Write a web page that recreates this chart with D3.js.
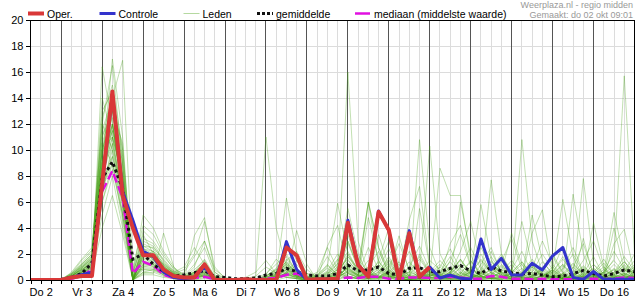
<!DOCTYPE html>
<html>
<head>
<meta charset="utf-8">
<script src="https://cdn.jsdelivr.net/npm/d3@7"></script>
<style>
  body { margin: 0; background: #fff; }
  svg { display: block; font-family: "Liberation Sans", Arial, sans-serif; }
</style>
</head>
<body>
<svg id="chart" width="635" height="300"></svg>
<script>
// tijdstappen: elke 6 uur vanaf do 2 06:00 (uren sinds do 2 00:00)
const startHour = 6, stepHours = 6, endHour = 360;
const dayLabels = ["Do 2", "Vr 3", "Za 4", "Zo 5", "Ma 6", "Di 7", "Wo 8", "Do 9", "Vr 10", "Za 11", "Zo 12", "Ma 13", "Di 14", "Wo 15", "Do 16"];
const yTicks = [0, 2, 4, 6, 8, 10, 12, 14, 16, 18, 20];

const oper = [0, 0, 0, 0, 0.2, 0.3, 0.3, 7.4, 14.5, 6.5, 4.0, 1.9, 1.9, 0.8, 0.3, 0.2, 0.2, 1.2, 0, 0,
  0, 0.05, 0, 0, 0, 2.5, 1.9, 0, 0.05, 0.05, 0.1, 4.4, 1.15, 0.25, 5.25, 3.85, 0, 3.6, 0.25, 1.0];

const controle = [0, 0, 0, 0, 0.2, 0.4, 0.6, 7.2, 14.3, 6.8, 4.6, 2.2, 1.8, 0.6, 0.2, 0.1, 0.2, 1.0, 0, 0,
  0, 0.05, 0, 0, 0, 2.95, 0.8, 0, 0.05, 0.05, 0.1, 4.6, 1.2, 0.25, 5.3, 3.8, 0, 3.8, 0.2, 1.0,
  0.15, 0.38, 0.13, 0.05, 3.15, 0.8, 1.67, 0.38, 0.38, 1.28, 0.77, 1.85, 2.5, 0.2, 0.05, 0.65, 0.05, 0.05, 0.05, 0.05];

const gemiddelde = [0, 0, 0.02, 0.05, 0.2, 0.5, 1.3, 7.8, 9.1, 7.0, 1.6, 2.0, 1.2, 0.65, 0.3, 0.4, 0.56, 0.72, 0.25, 0.2,
  0.1, 0.1, 0.15, 0.38, 0.5, 0.9, 0.64, 0.4, 0.3, 0.3, 0.5, 1.15, 0.7, 0.77, 1.0, 0.5, 0.4, 0.9, 0.95, 0.64,
  0.64, 0.9, 1.1, 0.72, 0.5, 1.0, 0.7, 0.56, 0.46, 0.5, 0.38, 0.25, 0.3, 0.5, 0.72, 0.5, 0.3, 0.5, 0.77, 0.64];

const mediaan = [0, 0, 0, 0, 0.1, 0.3, 0.8, 6.8, 8.4, 6.3, 0.5, 1.4, 1.1, 0.4, 0.15, 0.1, 0.15, 0.25, 0.05, 0,
  0, 0, 0.05, 0.1, 0.15, 0.4, 0.5, 0.1, 0.05, 0.05, 0.1, 0.2, 0.15, 0.25, 0.25, 0.1, 0.1, 0.2, 0.2, 0.15,
  0.15, 0.25, 0.2, 0.1, 0.1, 0.3, 0.25, 0.1, 0.1, 0.05, 0.1, 0.05, 0.05, 0.05, 0.1, 0.1, 0.05, 0.1, 0.2, 0.15];

const leden = [
  [0,0,0,0,0.3,0.8,1.5, 10,13,8,0.2,2.5, 1.5,0.8,0.3,0.2,0.8,1.5,0.1,0,0,0,0.1,
   0.5,1.2,2.0,0.5,0.2,0,0.1,0.3,3.5,1.0,0.5,0.2,0.8,0.1,0,0.5,1.5,
   0.8,0.2,0,0,1.2,2.5,0.5,0.1,0,0.3,0.8,0.2,0,0,0.5,1.8,0.3,0,0.1,0.4],
  [0,0,0,0.1,0.5,1.2,2.0, 12,16.5,9,0,1.8, 2.2,1.0,0.4,0.1,0.3,0.6,0,0,0,0,0,
   0.2,0.5,3.0,1.5,0.3,0.1,0,0,1.2,0.4,2.5,0.8,0.2,0,1.0,0.3,0.1,
   0,0.5,2.2,4.5,1.0,0.2,0,0.6,1.4,0.3,0,0,0.2,0.9,2.8,0.4,0,0,0.3,1.2],
  [0,0,0,0,0.2,0.6,1.0, 8,11,6,0.5,3.2, 2.8,1.5,0.6,0.2,0.2,0.4,0.1,0,0,0,0,
   0,0.3,0.8,0.4,0.1,0,0.2,0.8,5.5,2.0,0.4,0.1,0.5,1.2,0.3,0.1,0,
   0.2,1.5,3.5,1.0,0.3,0.8,2.0,0.6,0.1,0,0,0.3,1.1,0.2,0,0.1,0.6,2.2,0.8,0.2],
  [0,0,0,0,0.1,0.4,0.8, 16.4,12,7,0,1.0, 1.2,0.5,0.2,0,0.5,1.0,0.2,0,0,0.1,0.3,
   1.0,0.5,0.2,0.1,0,0,0,0.4,2.0,0.6,0.2,0.4,1.5,0.3,0.1,0,0.2,
   1.0,0.3,0,0.2,0.5,1.5,0.4,0,0,0.2,0.6,1.8,0.5,0.1,0,0.3,0.2,0,0.4,1.0],
  [0,0,0,0,0.5,1.5,2.3, 11,14,10,1.0,4.2, 3.5,2.0,0.8,0.3,1.2,2.5,0.4,0,0,0,0,
   0.1,0.2,1.5,2.2,0.8,0.2,0.1,0.5,2.8,1.0,6.0,2.5,0.4,0.1,0,0.3,1.0,
   0.4,0.1,0,0.8,2.0,0.5,0.1,0,0.4,1.0,0.3,0,0.2,0.7,0.2,0,0,0.3,0.9,0.5],
  [0,0,0,0,0,0.3,0.6, 6,9,5,0,0.5, 0.6,0.3,0.1,0,0,0.2,0,0,0,0,0,
   0,0.1,0.4,0.2,0,0,0,0.2,1.0,0.3,6.0,1.2,0.3,0.6,0.1,0,0.2,
   0.1,0.3,0.6,0.2,0,0.1,0.3,0.8,0.3,0.1,0,0,0.1,0.3,0.8,0.2,0,0.1,0.2,0.1],
  [0,0,0,0,0.3,0.9,1.6, 9,17,11,0,2.0, 1.8,1.2,0.6,0.2,0.3,0.8,0,0,0,0,0,
   0,0,0.6,0.3,0.1,0.5,1.8,0.6,16.0,3.0,0.5,0.2,0.1,0.8,2.2,0.6,0.1,
   0,0.2,0.5,1.5,0.6,0.1,0,0,0.3,0.9,3.0,1.2,0.3,0,0,0.2,0.6,0.2,0,0.3],
  [0,0,0,0,0.2,0.5,1.1, 7,10,6.5,0.3,1.4, 1.0,0.6,0.5,0.8,2.0,4.5,1.0,0.1,0,0,0,
   0.3,0.8,0.5,0.1,0,0,0.3,0.2,0.6,0.3,0.1,3.5,1.0,0.2,0,0.4,0.2,
   8.6,6.5,6.5,1.5,0.3,0.1,0,0.5,1.2,0.4,0,0.2,0.5,0.1,0,0,0.3,0.8,0.3,0],
  [0,0,0,0,0.1,0.6,1.3, 10,14,16.9,0.8,0.8, 0.8,0.4,0.2,0,0,0.1,0,0,0,0,0.2,
   11.0,4.0,1.0,0.3,0.1,0,0,0,0.5,0.2,0.1,0,0.3,0.1,0,0.5,0.4,
   0.2,0,0.1,0.4,0.2,7.7,2.0,0.3,0,0,0.1,0.5,1.2,0.3,0.1,0,0,0.2,0.5,0.1],
  [0,0,0,0,0.4,1.0,1.8, 8.5,12,7.5,0.6,2.8, 2.4,1.2,0.5,0.2,0.6,1.2,0.2,0,0,0,0,
   0,0.4,6.3,2.0,0.5,0.2,1.0,5.9,2.0,0.8,0.3,0.1,0.2,0.5,0.2,0.1,0,
   0,0,0.2,0.6,2.5,1.0,0.3,0.1,0.2,0.6,0.3,0,0,0.4,1.5,3.0,0.8,0.2,0,0],
  [0,0,0,0,0.2,0.7,1.4, 10,12.5,5.5,0,1.2, 1.6,0.7,0.2,0.1,0.2,0.5,0,0,0,0,0,
   0,0.2,0.3,0.1,0,0,0,0.1,0.8,0.4,0.2,0.6,1.8,0.4,0.1,10.8,2.5,
   0.5,0.2,0.1,0,0.3,0.8,0.4,0.2,10.8,3.0,0.6,0.1,0,0.2,0.5,0.1,0,0.3,0.8,0.2],
  [0,0,0,0,0.6,1.6,2.5, 12,10,5,0.2,3.8, 3.0,1.8,0.9,0.4,0.6,1.0,0.2,0,0,0,0,
   0.2,0.6,1.2,0.6,0.3,0.1,0,0.3,1.5,0.6,6.0,2.5,0.8,0.3,0.1,0.6,10.3,
   2.0,0.5,0.2,0.1,0.6,1.8,0.6,0.2,0,0.3,1.0,0.4,0.2,0.1,7.8,1.2,0.3,0,0.5,1.5],
  [0,0,0,0,0.1,0.3,0.7, 5,8,4,0,0.6, 0.5,3.6,1.0,0,0.1,0.3,0,0,0,0,0,
   0,0,0.2,0.1,0,0,0,0,0.3,0.1,0,0,0.1,0.2,0,0,0.1,
   0.3,2.8,4.2,1.1,0,0.2,0.6,3.6,1.2,0,0.1,0.3,0.1,0,0.2,4.4,1.0,0,0.2,0.3],
  [0,0,0,0,0.3,0.8,1.2, 9.5,13.5,8.5,0,2.2, 2.0,1.0,0.6,1.0,2.5,1.2,0.3,0,0,0,0,
   0.4,1.6,0.8,0.2,0,0,0.4,1.0,3.0,0.8,0.2,1.5,4.0,1.2,0.3,0.2,0.8,
   0.4,0.2,1.0,2.5,0.8,0.2,0.1,0.8,2.2,0.5,0.2,0.6,1.8,0.4,0.2,0.1,0.5,1.6,15.7,2.0],
  [0,0,0,0,0.2,0.5,0.9, 7.5,9.5,7,0.1,1.6, 1.4,0.6,0.3,0.1,0.4,0.9,0,0,0,0,0,
   0,0.3,0.5,0.2,0.1,0,0,0.4,0.9,0.3,0.7,0.3,0.1,0,0.3,0.8,0.2,
   0.1,0,0.3,0.9,0.3,0.1,0.4,1.2,0.4,0.1,0,0,0.4,1.0,0.3,0.1,0,0.2,0.6,2.0],
  [0,0,0,0,0.4,1.1,1.9, 11.5,14,9.5,0,3.0, 2.6,1.4,0.5,0.2,0.5,1.4,0.3,0,0,0,0.1,
   0.3,0.9,1.8,0.6,0.2,0.1,0.6,1.6,0.5,0.2,0.1,0.3,0.6,0.2,0,0.1,0.5,
   1.0,2.4,0.8,0.2,0.1,0.5,1.4,3.2,0.8,0.2,0,0.3,0.9,2.5,0.6,0.1,0,0.4,1.2,0.4],
  [0,0,0,0,0.2,0.7,1.5, 8,11,7.8,0.4,5.0, 4.0,2.2,1.0,0.3,0.2,0.4,0.1,0,0,0,0,
   0,0.2,0.8,0.4,0.1,0,0,0.2,1.2,0.5,1.5,0.6,0.2,0,0,0.2,0.4,
   0.2,0.1,0,0.1,0.5,0.2,0,0,0.2,0.6,2.0,0.8,0.2,0,0.1,0.4,1.0,0.3,0.1,0],
  [0,0,0,0,0.1,0.4,1.0, 6.5,10.5,6,0,0.9, 0.9,0.4,0.1,0,0.2,0.6,0,0,0,0,0,
   0.1,0.4,1.0,0.4,0.2,0.6,2.5,0.8,0.3,0.1,0,0.2,0.5,0.2,0.6,1.8,0.5,
   0.2,0.6,1.5,0.5,0.2,0.1,0.8,0.3,0,0,0.3,1.0,0.3,0.1,0.3,0.9,0.2,0.5,1.4,0.6],
  [0,0,0,0,0.3,0.9,1.7, 14,11,8,0.8,3.5, 2.0,1.1,0.4,0.2,1.0,3.0,0.6,0.1,0,0,0,
   0.2,0.3,0.9,0.3,0.1,0.3,1.2,0.4,1.8,0.9,0.3,0.2,1.0,2.8,0.8,0.2,0.6,
   1.5,0.6,0.2,0.1,0.8,2.2,0.6,0.2,0.1,0.4,1.4,0.5,0.1,0,0.2,0.6,1.6,0.4,0.1,0.6],
  [0,0,0,0,0.2,0.6,1.2, 9,12,6.8,0,1.9, 1.7,0.9,0.3,0.1,0.2,0.3,0,0,0,0,0,
   0,0.1,0.6,1.5,0.5,0.2,0.1,0.3,0.6,0.2,0.4,1.4,0.5,0.1,0,0.3,0.2,
   0.1,0.4,1.2,0.4,0.1,0.3,1.0,0.4,0.2,5.0,1.5,0.4,0.1,0,0.2,0.4,0.2,0.1,0.4,0.8],
  [0,0,0,0,0.5,1.3,2.2, 10.5,9,4.5,0.1,2.4, 2.2,1.3,0.7,0.3,0.4,0.7,0.1,0,0,0,0,
   0.3,0.7,1.4,0.5,0.1,0,0.2,0.9,2.2,0.7,0.2,0.1,0.4,0.9,0.3,0.1,0.3,
   0.6,0.3,0.1,0.5,1.6,0.6,0.2,0.1,0.5,1.2,0.4,0.1,0,0.3,0.8,0.3,0.1,0.6,1.8,0.7],
  [0,0,0,0,0.1,0.2,0.5, 4,6.5,3.5,0,0.4, 0.4,0.2,0.1,0,3.4,4.8,0.6,0,0,0,0,
   0,0.1,0.4,3.8,1.2,0,0.1,0.5,0.3,0.1,4.8,1.5,0.3,0.1,0,5.5,1.0,
   0,0.1,6.0,2.0,0,0,0.2,0.6,4.5,1.2,0.1,0.3,0.1,0,3.2,0.3,0.6,5.2,1.5,0.1],
  [0,0,0,0,0.3,0.8,1.4, 8.8,13,10.5,0.2,2.6, 2.5,1.6,0.7,0.2,0.3,0.5,0.1,0,0,0,0,
   0,0.5,1.1,0.4,0.2,0.1,0.5,1.2,4.5,1.6,0.6,0.2,0.3,0.7,0.2,2.0,0.6,
   0.2,0.1,0.3,0.8,0.3,0.1,0.2,0.6,1.4,0.4,0.2,0.8,2.6,0.8,0.2,0.1,0.3,0.9,0.3,0.2],
  [0,0,0,0,0.2,0.5,1.0, 7,9,5.8,0,1.1, 1.3,0.8,0.4,0.6,1.8,3.0,0.8,0.2,0,0,0,
   0.1,0.2,0.5,0.3,0.1,0,0,0.2,0.7,0.4,0.2,0.5,1.3,0.4,0.1,0,0.3,
   0.3,1.0,0.3,0.1,0,0.4,1.1,0.4,0.2,0.1,0.3,0.8,0.3,0.1,0.4,1.2,0.5,0.2,0.1,0.3],
  [0,0,0,0,0.4,1.2,2.0, 9,12,7,0,1.5, 1.2,0.6,0.2,0.1,0.4,0.9,0.1,0,0,0,0,
   0.2,0.4,1.0,0.6,0.2,0.1,0.3,0.8,1.6,0.5,1.0,2.2,0.6,0.2,0.4,1.1,0.3,
   0.6,1.8,0.6,0.2,0.4,1.2,0.4,0.1,0.3,0.8,0.3,0.1,0.5,1.3,0.4,0.2,0.6,1.5,0.5,0.2],
  [0,0,0,0,0.2,0.6,1.2, 11,13,8,0,0.6, 0.8,0.5,0.3,0.1,0.6,1.6,0.3,0,0,0,0,
   0,0.2,0.5,1.2,0.4,0.1,0,0.3,0.9,0.4,0.2,0.9,2.4,0.7,0.2,0.1,0.4,
   0.2,0.6,1.6,0.5,0.2,0.1,0.6,1.5,0.5,0.2,0.1,0.4,1.2,0.4,0.1,0.3,0.8,0.3,0.1,0.5],
  [0,0,0,0,0.3,1.0,1.7, 12.5,15,10,0,2.0, 1.6,0.8,0.3,0.1,0.2,0.4,0,0,0,0,0,
   0.1,0.3,0.7,0.3,0.1,0,0.2,0.5,1.3,0.5,0.3,0.6,1.6,0.5,0.1,0.3,0.9,
   0.3,0.1,0.5,1.4,0.5,0.2,0.1,0.3,0.9,0.3,0.8,2.0,0.6,0.2,0.1,0.5,1.3,0.4,0.2,0.4],
  [0,0,0,0,0.1,0.5,1.0, 8,10.5,6.5,0,1.2, 1.1,0.6,0.3,0.1,0.3,0.7,0.1,0,0,0.2,0.6,
   1.5,0.5,0.2,0.1,0,0.2,0.6,0.3,1.0,0.4,0.1,0.2,0.7,0.3,1.0,2.6,0.8,
   0.4,0.9,0.3,0.1,0.2,0.6,0.2,0.1,0.4,1.1,0.4,0.2,0.8,2.0,0.6,0.2,0.1,0.4,1.0,0.3],
  [0,0,0,0,0.3,0.7,1.3, 7.5,12,8,0,1.7, 1.5,0.9,0.5,0.2,0.2,0.3,0,0,0,0,0,
   0,0.2,0.6,0.3,0.1,0.4,1.1,0.4,0.2,0.1,0.4,1.0,0.3,0.1,0.2,0.6,0.2,
   0.1,0.3,0.9,0.3,0.1,0.6,1.8,0.6,0.2,0.1,0.3,0.7,0.2,0.4,1.1,0.4,0.2,0.1,0.3,0.6],
  [0,0,0,0,0.4,1.0,1.6, 10,11,6.2,0,2.2, 1.9,1.0,0.4,0.2,0.5,1.1,0.2,0,0,0,0,
   0.2,0.6,1.4,0.5,0.2,0.1,0.4,1.3,0.5,0.2,0.9,0.3,0.1,0.5,1.4,0.5,0.2,
   0.3,0.8,0.2,0.1,0.5,1.4,0.5,0.2,0.6,1.6,0.5,0.2,0.1,0.4,1.0,0.4,0.1,0.5,1.1,0.4],
  [0,0,0,0,0.2,0.4,0.9, 6,8.5,5,0,0.8, 0.7,0.4,0.2,0.1,0.3,0.6,0,0,0,0,0,
   0.1,0.3,0.8,0.3,0.1,0,2.6,4.2,0.8,0.3,0.1,0.2,0.5,3.4,0.6,0.3,0.7,
   0.2,0.1,0.3,0.6,5.8,1.6,0.2,0.5,0.2,0.1,0.3,0.8,6.2,1.8,0.2,0.5,0.2,2.8,3.9,0.5],
  [0,0,0,0,0.3,0.9,1.5, 10.5,13.5,9,0,2.6, 2.2,1.1,0.4,0.1,0.3,0.5,0.1,0,0,0,0,
   0,0.4,1.3,0.5,0.2,0.1,0.5,1.5,3.0,1.1,0.4,0.2,0.6,1.4,0.4,0.2,0.5,
   1.2,0.4,0.2,0.6,1.5,0.5,0.2,0.1,0.5,1.4,0.5,0.2,0.1,0.3,0.9,0.3,0.1,0.6,1.4,0.5],
  [0,0,0,0,0.2,0.6,1.1, 9,11.5,7.2,0,1.3, 1.2,0.7,0.3,0.1,0.2,0.4,0,0,0,0,0,
   0,0.1,0.4,0.2,0.1,0.3,0.9,0.3,0.1,0.2,0.6,0.2,0.1,0.4,4.6,7.2,1.1,
   0.2,0.5,1.2,0.4,0.1,0.2,0.6,0.2,0.1,0.3,0.9,0.3,0.1,6.6,2.0,0.2,0.1,0.2,0.5,0.2],
  [0,0,0,0,0.4,1.1,1.8, 13,14.5,8.8,0,1.8, 1.7,0.9,0.4,0.2,0.6,1.3,0.2,0,0,0,0,
   0.3,0.8,1.6,0.6,0.2,0.1,0.2,0.6,1.8,0.7,0.3,1.2,3.0,0.9,0.3,0.1,0.4,
   0.5,1.4,0.5,0.2,0.3,0.9,0.3,0.1,0.4,1.0,0.3,0.6,1.6,0.5,0.2,0.1,0.4,1.2,0.4,0.1],
  [0,0,0,0,0.1,0.3,0.6, 7,9.5,6,0,1.0, 1.0,0.5,0.2,0,0.1,0.3,0,0,0,0,0,
   0,0.2,0.5,0.2,0,0,0.2,0.6,0.2,0.1,0.3,0.8,0.3,0.1,0,0.2,0.6,
   0.2,0.1,0.4,1.0,0.3,0.1,0.2,0.5,0.2,3.6,5.4,0.6,0.2,0.1,0.3,0.9,0.3,4.0,0.8,0.6],
  [0,0,0,0,0.3,0.8,1.3, 8.2,11.5,7.5,0,2.4, 2.0,1.2,0.5,0.2,0.4,0.8,0.1,0,0,0,0,
   0.1,0.5,1.2,0.4,0.1,0.2,0.7,2.0,0.7,0.3,0.1,0.4,1.1,0.4,0.6,1.6,0.5,
   0.2,0.6,1.6,0.5,0.2,0.4,1.2,0.4,0.1,0.2,0.7,0.2,0.4,1.2,0.4,0.1,0.3,0.8,0.3,0.2]
];

const svg = d3.select("#chart");
const plotLeft = 30.5, plotRight = 634.5, plotTop = 20, plotBottom = 280;

const x = d3.scaleLinear().domain([startHour, endHour]).range([plotLeft, plotRight]);
const y = d3.scaleLinear().domain([0, 20]).range([plotBottom, plotTop]);
const hourAt = i => startHour + i * stepHours;

const sixHours = d3.range(startHour, endHour + 1, stepHours);
const midnights = sixHours.filter(h => h % 24 === 0);
const noons = dayLabels.map((d, i) => 12 + 24 * i);

// rasterlijnen
const grid = svg.append("g").attr("shape-rendering", "crispEdges");
grid.selectAll(".hgrid")
  .data(yTicks.slice(1, -1))
  .enter().append("line")
  .attr("x1", plotLeft).attr("x2", plotRight)
  .attr("y1", d => y(d)).attr("y2", d => y(d))
  .attr("stroke", "#dcdcdc");
grid.selectAll(".vgrid")
  .data(sixHours.filter(h => h % 24 !== 0))
  .enter().append("line")
  .attr("x1", d => x(d)).attr("x2", d => x(d))
  .attr("y1", plotTop).attr("y2", plotBottom)
  .attr("stroke", "#dcdcdc");
grid.selectAll(".day")
  .data(midnights)
  .enter().append("line")
  .attr("x1", d => x(d)).attr("x2", d => x(d))
  .attr("y1", plotTop).attr("y2", plotBottom)
  .attr("stroke", "#555");

svg.append("clipPath").attr("id", "clip")
  .append("rect").attr("x", plotLeft).attr("y", plotTop)
  .attr("width", plotRight - plotLeft).attr("height", plotBottom - plotTop);

const line = d3.line().x((d, i) => x(hourAt(i))).y(d => y(d));
const plot = svg.append("g").attr("clip-path", "url(#clip)");

plot.selectAll(".lid")
  .data(leden)
  .enter().append("path")
  .attr("d", line)
  .attr("fill", "none")
  .attr("stroke", "#45a015")
  .attr("stroke-opacity", 0.33)
  .attr("stroke-width", 1);

plot.append("path").attr("d", line(mediaan))
  .attr("fill", "none").attr("stroke", "#e010e0").attr("stroke-width", 2.5)
  .attr("stroke-dasharray", "9,4");

plot.append("path").attr("d", line(gemiddelde))
  .attr("fill", "none").attr("stroke", "#111").attr("stroke-width", 3)
  .attr("stroke-dasharray", "3,3");

plot.append("path").attr("d", line(controle))
  .attr("fill", "none").attr("stroke", "#3333cc").attr("stroke-width", 3)
  .attr("stroke-linejoin", "round");

plot.append("path").attr("d", line(oper))
  .attr("fill", "none").attr("stroke", "#d93838").attr("stroke-width", 4)
  .attr("stroke-linejoin", "round");

// kader en assen
svg.append("rect")
  .attr("x", plotLeft).attr("y", plotTop)
  .attr("width", plotRight - plotLeft).attr("height", plotBottom - plotTop)
  .attr("fill", "none").attr("stroke", "#000").attr("shape-rendering", "crispEdges");

const yAxis = svg.append("g")
  .attr("transform", `translate(${plotLeft},0)`)
  .call(d3.axisLeft(y).tickValues(yTicks).tickSize(5).tickPadding(2));

const xTicks = svg.append("g")
  .attr("transform", `translate(0,${plotBottom})`)
  .call(d3.axisBottom(x).tickValues(sixHours).tickSize(4).tickFormat(""));

const xLabels = svg.append("g")
  .attr("transform", `translate(0,${plotBottom})`)
  .call(d3.axisBottom(x).tickValues(noons).tickSize(0).tickPadding(8).tickFormat((d, i) => dayLabels[i]));

[yAxis, xTicks, xLabels].forEach(g => {
  g.select(".domain").remove();
  g.selectAll("line").attr("stroke", "#000").attr("shape-rendering", "crispEdges");
  g.selectAll("text").attr("fill", "#000").style("font-size", "11px")
    .style("font-family", "'Liberation Sans', Arial, sans-serif");
});

// legenda
const legend = [
  { name: "Oper.", x: 28, color: "#d93838", width: 4, dash: null },
  { name: "Controle", x: 99.5, color: "#3333cc", width: 3, dash: null },
  { name: "Leden", x: 183.5, color: "#b5d9a0", width: 1, dash: null },
  { name: "gemiddelde", x: 257, color: "#111", width: 3, dash: "3,2" },
  { name: "mediaan (middelste waarde)", x: 355, color: "#e010e0", width: 2.5, dash: "15,2,2,20" }
];
const lg = svg.selectAll(".legend").data(legend).enter().append("g");
lg.append("line")
  .attr("x1", d => d.x).attr("x2", d => d.x + 16)
  .attr("y1", 13.5).attr("y2", 13.5)
  .attr("stroke", d => d.color).attr("stroke-width", d => d.width)
  .attr("stroke-dasharray", d => d.dash);
lg.append("text")
  .attr("x", d => d.x + 19).attr("y", 17.5)
  .style("font-size", "10.5px")
  .text(d => d.name);

svg.append("text")
  .attr("x", 633).attr("y", 7.5)
  .attr("text-anchor", "end").attr("fill", "#999")
  .style("font-size", "9px")
  .text("Weerplaza.nl - regio midden");
svg.append("text")
  .attr("x", 633).attr("y", 18)
  .attr("text-anchor", "end").attr("fill", "#999")
  .style("font-size", "9px")
  .text("Gemaakt: do 02 okt 09:01");
</script>
</body>
</html>
